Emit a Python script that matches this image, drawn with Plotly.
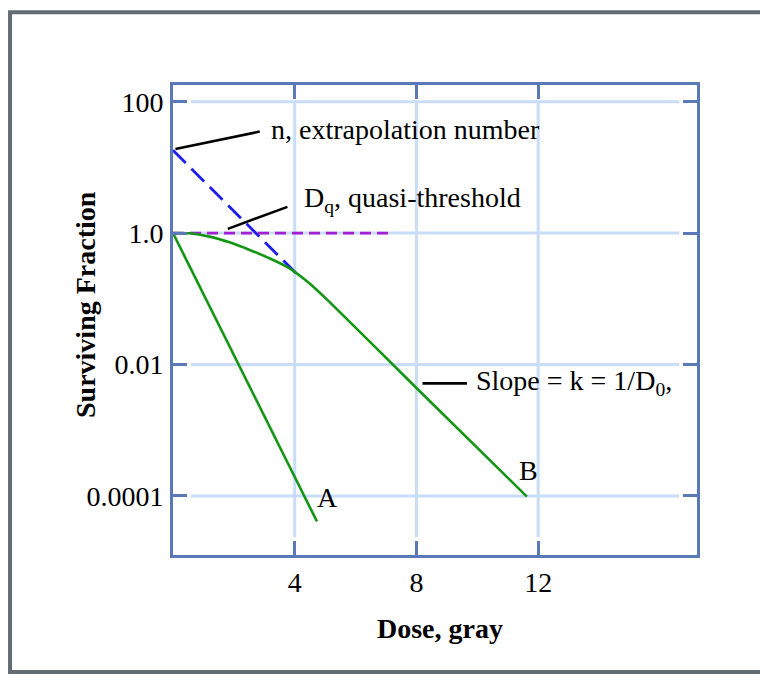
import plotly.graph_objects as go

# ---- data (dose in gray, surviving fraction) ----
curve_a_dose = [0.0, 2.4, 4.73]
curve_a_sf = [1.0, 0.0059, 4.1e-5]

curve_b_dose = [0.0, 0.54, 1.20, 1.86, 2.52, 3.17, 3.83, 4.49, 5.15, 8.0, 11.63]
curve_b_sf = [1.0, 0.993, 0.885, 0.724, 0.555, 0.414, 0.291, 0.171, 0.089, 0.0044, 9.8e-5]

extrap_dose = [0.0, 4.1]
extrap_sf = [18.2, 0.231]

dq_dose = [0.0, 7.12]
dq_sf = [1.0, 1.0]

x_tickvals = [4, 8, 12]
x_ticktext = ["4", "8", "12"]
y_tickvals = [100, 1, 0.01, 0.0001]
y_ticktext = ["100", "1.0", "0.01", "0.0001"]

FONT = "Liberation Serif"
BOX = "#5b79b9"
GRID = "#c9ddf8"
GREEN = "#139613"
FS = 28

fig = go.Figure()
fig.add_trace(go.Scatter(x=extrap_dose, y=extrap_sf, mode="lines",
                         line=dict(color="#1c1cf0", width=2.8, dash="18px,8px"),
                         hoverinfo="skip", showlegend=False))
fig.add_trace(go.Scatter(x=dq_dose, y=dq_sf, mode="lines",
                         line=dict(color="#a41fd4", width=2.8, dash="11px,6px"),
                         hoverinfo="skip", showlegend=False))
fig.add_trace(go.Scatter(x=curve_a_dose, y=curve_a_sf, mode="lines",
                         line=dict(color=GREEN, width=2.6),
                         showlegend=False, name="A"))
fig.add_trace(go.Scatter(x=curve_b_dose, y=curve_b_sf, mode="lines",
                         line=dict(color=GREEN, width=2.6, shape="spline", smoothing=0.6),
                         showlegend=False, name="B"))

shapes = []
# gridlines with small gaps at the frame
for v in y_tickvals:
    shapes.append(dict(type="line", xref="paper", yref="y", x0=0.034, x1=0.966,
                       y0=v, y1=v, line=dict(color=GRID, width=3), layer="below"))
for v in x_tickvals:
    shapes.append(dict(type="line", xref="x", yref="paper", x0=v, x1=v,
                       y0=0.038, y1=0.962, line=dict(color=GRID, width=3), layer="below"))
# leader lines
leaders = [((0.08, 19.1), (2.85, 35.1)),
           ((1.80, 1.16), (3.76, 2.51)),
           ((8.20, 0.00517), (9.66, 0.00517))]
for (xa, ya), (xb, yb) in leaders:
    shapes.append(dict(type="line", xref="x", yref="y", x0=xa, y0=ya, x1=xb, y1=yb,
                       line=dict(color="black", width=2.6)))
# outer frame
shapes.append(dict(type="rect", xref="paper", yref="paper", x0=-0.311, x1=1.2,
                   y0=-0.249, y1=1.155, line=dict(color="#616c74", width=4)))

tf = dict(family=FONT, size=FS, color="black")
annotations = [
    dict(x=3.17, y=1.575, xref="x", yref="y", text="n, extrapolation number",
         showarrow=False, xanchor="left", yanchor="middle", font=tf),
    dict(x=4.23, y=0.51, xref="x", yref="y", text="D<sub>q</sub>, quasi-threshold",
         showarrow=False, xanchor="left", yanchor="middle", font=tf),
    dict(x=9.88, y=-2.276, xref="x", yref="y", text="Slope = k = 1/D<sub>0</sub>,",
         showarrow=False, xanchor="left", yanchor="middle", font=tf),
    dict(x=5.08, y=-4.026, xref="x", yref="y", text="A",
         showarrow=False, xanchor="center", yanchor="middle", font=tf),
    dict(x=11.69, y=-3.615, xref="x", yref="y", text="B",
         showarrow=False, xanchor="center", yanchor="middle", font=tf),
    dict(x=(440 - 173) / 524, y=(555 - 628) / 470, xref="paper", yref="paper",
         text="<b>Dose, gray</b>", showarrow=False, xanchor="center", yanchor="middle",
         font=tf),
    dict(x=(85 - 173) / 524, y=(555 - 305) / 470, xref="paper", yref="paper",
         text="<b>Surviving Fraction</b>", showarrow=False, textangle=-90,
         xanchor="center", yanchor="middle", font=tf),
]

fig.update_layout(
    width=760, height=667,
    margin=dict(l=165, r=71, t=77, b=120),
    paper_bgcolor="white", plot_bgcolor="white",
    font=dict(family=FONT, size=FS, color="black"),
    shapes=shapes, annotations=annotations,
    xaxis=dict(range=[0, 17.22], tickvals=x_tickvals, ticktext=x_ticktext,
               showgrid=False, zeroline=False, showline=True, linecolor=BOX, linewidth=3,
               mirror="ticks", ticks="inside", ticklen=14, tickwidth=3, tickcolor=BOX,
               ticklabelstandoff=0, tickfont=tf),
    yaxis=dict(type="log", range=[-4.898, 2.254], tickvals=y_tickvals, ticktext=y_ticktext,
               showgrid=False, zeroline=False, showline=True, linecolor=BOX, linewidth=3,
               mirror="ticks", ticks="inside", ticklen=14, tickwidth=3, tickcolor=BOX,
               ticklabelstandoff=1, tickfont=tf),
)

fig.write_html("out.html")
